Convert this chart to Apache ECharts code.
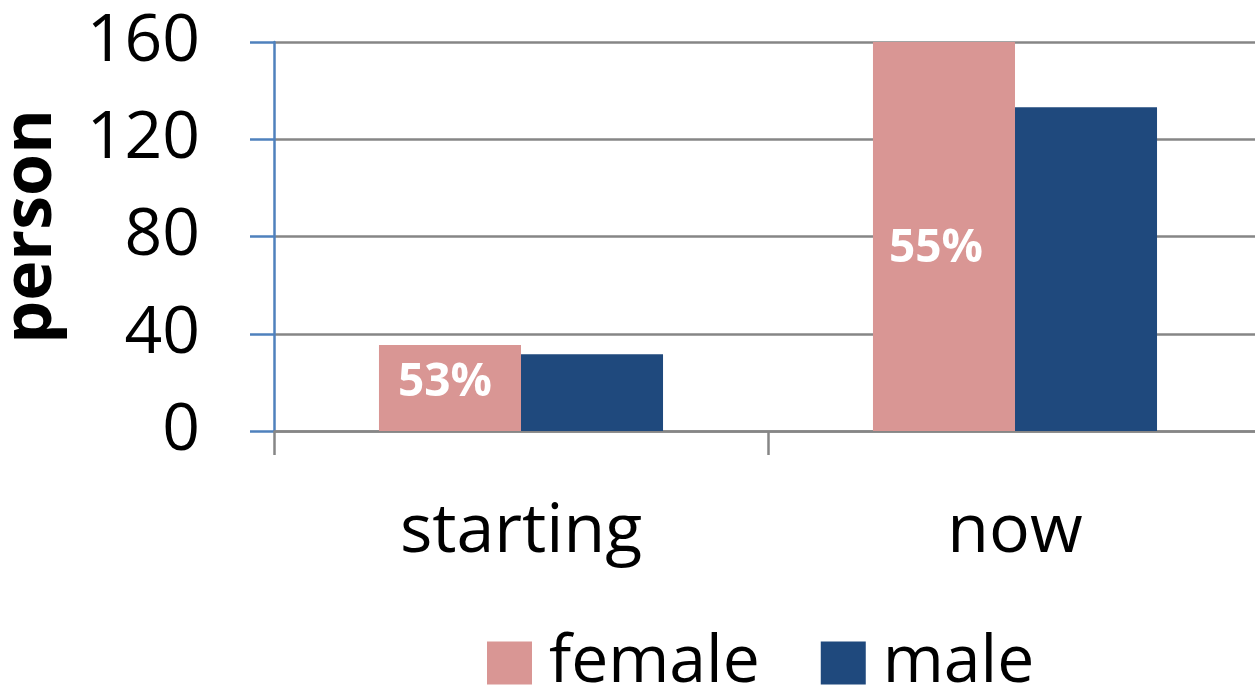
<!DOCTYPE html>
<html>
<head>
<meta charset="utf-8">
<script src="https://cdn.jsdelivr.net/npm/echarts@6/dist/echarts.min.js"></script>
<style>
html,body{margin:0;padding:0;background:#fff;}
#chart{width:1255px;height:689px;}
</style>
</head>
<body>
<div id="chart"></div>
<script>
const categories = ['starting', 'now'];
const female = [35.4, 160];
const male = [31.6, 133.2];
const femaleLabels = ['53%', '55%'];
const yTicks = [0, 40, 80, 120, 160];

const FONT = '"Open Sans", "Noto Sans", sans-serif';
const labelOffsets = [[-5, -5], [-8, 12]];

const chart = echarts.init(document.getElementById('chart'), null, {renderer: 'canvas'});
chart.setOption({
  animation: false,
  backgroundColor: '#fff',
  grid: {left: 274, top: 42, bottom: 258, right: -7, containLabel: false, outerBoundsMode: 'none'},
  legend: {
    data: ['female', 'male'],
    left: 482, top: 625,
    itemWidth: 45, itemHeight: 43, itemGap: 61,
    icon: 'rect',
    textStyle: {fontFamily: FONT, fontSize: 66, color: '#000', padding: [0, 0, 0, 12]}
  },
  xAxis: {
    type: 'category',
    data: categories,
    axisLine: {lineStyle: {color: '#868686', width: 2.5}},
    axisTick: {show: true, length: 24, lineStyle: {color: '#868686', width: 2.5}},
    axisLabel: {fontFamily: FONT, fontSize: 68, color: '#000', margin: 68}
  },
  yAxis: {
    type: 'value',
    min: yTicks[0], max: yTicks[yTicks.length - 1], interval: 40,
    name: 'person',
    nameLocation: 'middle',
    nameGap: 208,
    nameTextStyle: {fontFamily: FONT, fontSize: 68, fontWeight: 'bold', color: '#000', padding: [0, 0, 0, 20]},
    axisLine: {show: true, lineStyle: {color: '#4F81BD', width: 2.5}},
    axisTick: {show: true, length: 24, lineStyle: {color: '#4F81BD', width: 2.5}},
    axisLabel: {fontFamily: FONT, fontSize: 66, color: '#000', margin: 74},
    splitLine: {lineStyle: {color: '#868686', width: 2.5}}
  },
  series: [
    {
      name: 'female', type: 'bar',
      barGap: '0%', barCategoryGap: '42.5%',
      itemStyle: {color: '#D99694'},
      data: female.map((v, i) => ({
        value: v,
        label: {
          show: true, position: 'inside', offset: labelOffsets[i],
          formatter: femaleLabels[i],
          fontFamily: FONT, fontSize: 46, fontWeight: 'bold', color: '#fff'
        }
      }))
    },
    {
      name: 'male', type: 'bar',
      barGap: '0%', barCategoryGap: '42.5%',
      itemStyle: {color: '#1F497D'},
      data: male
    }
  ]
});
</script>
</body>
</html>
